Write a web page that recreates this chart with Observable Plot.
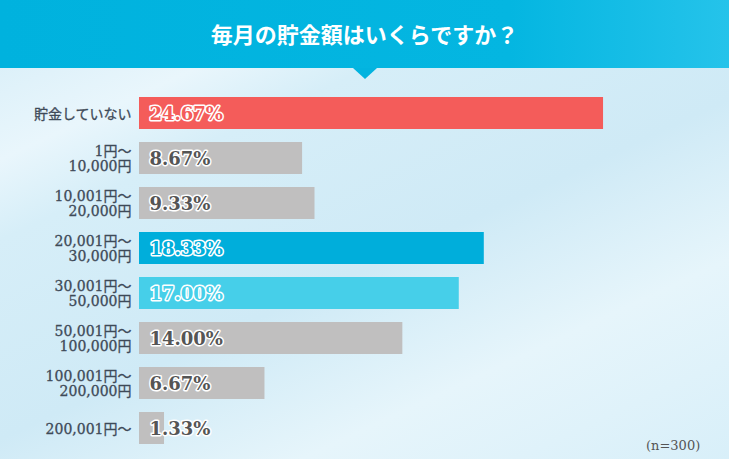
<!DOCTYPE html>
<html><head><meta charset="utf-8">
<script src="https://cdn.jsdelivr.net/npm/d3@7"></script>
<script src="https://cdn.jsdelivr.net/npm/@observablehq/plot@0.6"></script>
<style>
html,body{margin:0;padding:0;}
#wrap{position:relative;width:729px;height:459px;overflow:hidden;
 background:linear-gradient(155deg,#d3ecf7 0%,#e9f6fc 20%,#d6eef8 30%,#cfeaf6 55%,#e6f5fb 75%,#d8eff9 100%);}
#head{position:absolute;left:0;top:0;width:729px;height:68px;
 background:linear-gradient(90deg,#00b2de 0%,#04b6e1 70%,#25c3ea 100%);
 color:#fff;font:bold 22px "Noto Sans CJK JP",sans-serif;text-align:center;line-height:66px;z-index:2;}
#tri{position:absolute;left:353px;top:68px;width:0;height:0;border-left:12px solid transparent;border-right:12px solid transparent;border-top:11px solid #02b3df;z-index:2;}
#chart{position:absolute;left:0;top:0;z-index:1;}
#note{position:absolute;left:646px;top:438px;font:13px "DejaVu Serif","Noto Sans CJK JP",serif;color:#555;z-index:2;}
</style></head>
<body>
<div id="wrap">
 <div id="head">毎月の貯金額はいくらですか？</div>
 <div id="tri"></div>
 <div id="chart"></div>
 <div id="note">(n=300)</div>
</div>
<script>
const categories = ["貯金していない","1円～\n10,000円","10,001円～\n20,000円","20,001円～\n30,000円","30,001円～\n50,000円","50,001円～\n100,000円","100,001円～\n200,000円","200,001円～"];
const values = [24.67, 8.67, 9.33, 18.33, 17.00, 14.00, 6.67, 1.33];
const barColors = ["#f45c5a","#c0bfbf","#c0bfbf","#00aedb","#46cfe9","#c0bfbf","#c0bfbf","#c0bfbf"];
const textColors = ["#f45c5a","#555555","#555555","#00aedb","#46cfe9","#555555","#555555","#555555"];

const data = categories.map((c,i)=>({cat:c, v:values[i], bar:barColors[i], txt:textColors[i], label:values[i].toFixed(2)+"%"}));

const plot = Plot.plot({
  width:729, height:459,
  marginLeft:139, marginRight:25.7, marginTop:83, marginBottom:1.3,
  style:{background:"transparent"},
  x:{domain:[0,30], axis:null},
  y:{domain:categories, padding:0.29, axis:null},
  marks:[
    Plot.barX(data,{x:"v", y:"cat", fill:"bar"}),
    Plot.text(data,{x:0, y:"cat", text:"cat", textAnchor:"end", dx:-8, lineHeight:1.12,
      fill:"#3e4a58", stroke:"#3e4a58", strokeWidth:0.3, fontSize:14, fontFamily:"'DejaVu Serif','Noto Sans CJK JP',serif"}),
    Plot.text(data,{x:0, y:"cat", text:"label", textAnchor:"start", dx:10, dy:1,
      fill:"txt", stroke:"white", strokeWidth:3, paintOrder:"stroke",
      fontSize:18, fontWeight:"bold", fontFamily:"'DejaVu Serif',serif"})
  ]
});
document.getElementById("chart").appendChild(plot);
</script>
</body></html>
